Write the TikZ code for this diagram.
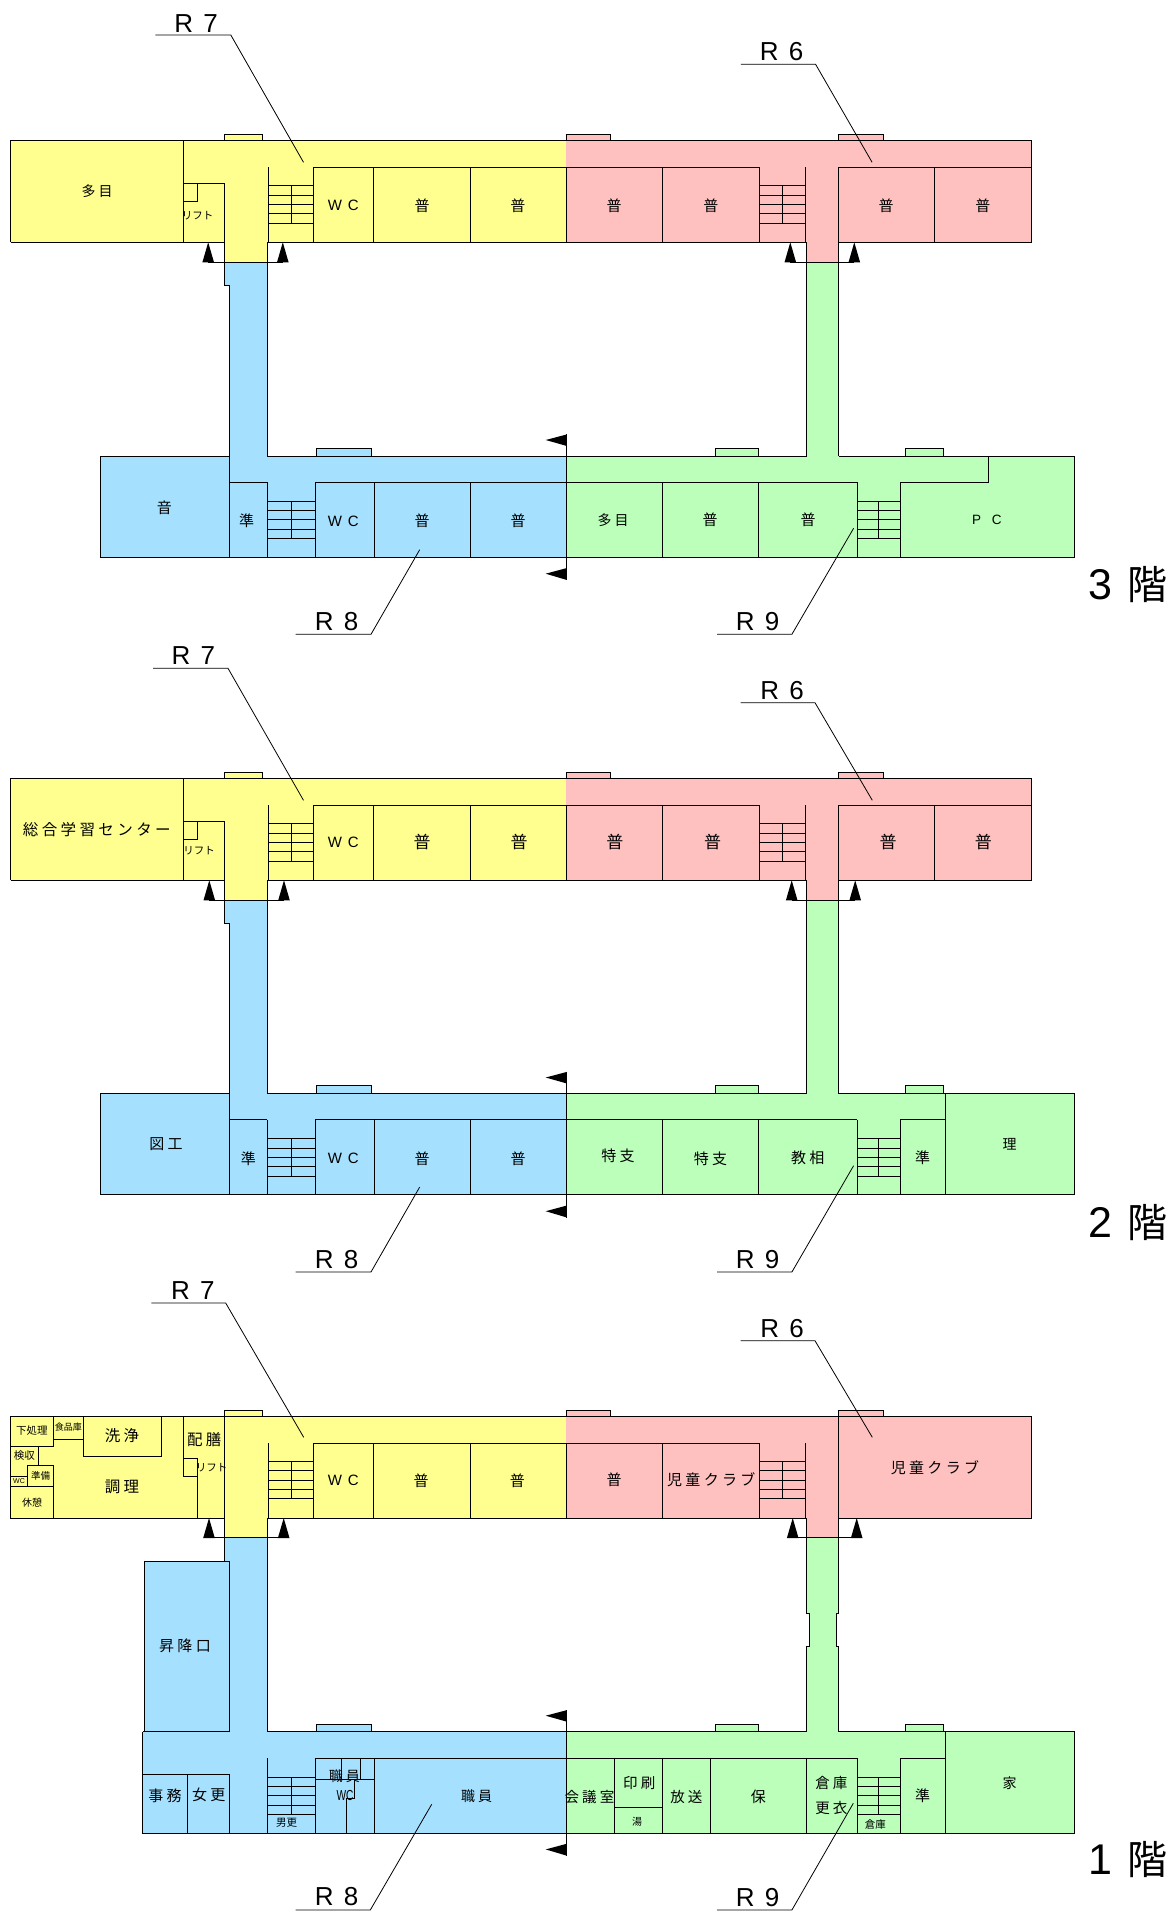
\documentclass[tikz,border=0pt]{standalone}
\usepackage{fontspec}
\setmainfont{Noto Sans CJK JP}
\newfontfamily\cjkp{Noto Sans CJK JP}
\newfontfamily\cjks[LetterSpace=22]{Noto Sans CJK JP}
\newfontfamily\latp{Liberation Sans}
\newfontfamily\lats[LetterSpace=40]{Liberation Sans}
\newfontfamily\latw[LetterSpace=80]{Liberation Sans}
\definecolor{zy}{HTML}{FFFF90}
\definecolor{zp}{HTML}{FFC0C0}
\definecolor{zb}{HTML}{A5E1FF}
\definecolor{zg}{HTML}{BBFFBB}
\tikzset{ln/.style={draw=black,line width=1pt,line join=miter},
  ldr/.style={draw=black,line width=.8pt},
  lb/.style={inner sep=0pt,outer sep=0pt,anchor=center,text=black}}
\newcommand{\lbl}[6]{\node[lb,font=#4\fontsize{#5}{#5}\selectfont] (#1) at (#2,#3) {#6};}
\newcommand{\rlbl}[5]{\node[lb,font=\latp\fontsize{26}{26}\selectfont] (#1) at (#2,#3) {R\ \kern3pt #5};}
\newcommand{\leaderline}[6]{\coordinate (#1a) at (#2,#4);\coordinate (#1b) at (#3,#4);\coordinate (#1c) at (#5,#6);\draw[ldr] (#1a) -- (#1b) -- (#1c);}
\newcommand{\stairs}[4]{\foreach \k in {0,9.33,18.67,28,37.33}{\draw[ln] (#1,#4+\k) -- (#3,#4+\k);}\draw[ln] (#2,#4) -- (#2,#4+37.33);}
\newcommand{\bump}[4]{\fill[#4] (#1,0) rectangle (#2,#3);\draw[ln] (#1,0) -- (#1,#3) -- (#2,#3) -- (#2,0);}
\newcommand{\upar}[1]{\fill[black] (#1,102) -- ++(-5.8,20) -- ++(11.6,0) -- cycle;}
\newcommand{\topfills}{%
  \fill[zy] (10.5,0) rectangle (566.4,102);
  \fill[zy] (224.3,100) rectangle (267.2,122);
  \fill[zp] (566.4,0) rectangle (1031,102);
  \fill[zp] (806.5,100) rectangle (838.5,122);
  \bump{224.3}{262.5}{-6}{zy}\bump{566}{610.5}{-6}{zp}\bump{838.2}{883.2}{-6}{zp}}
\newcommand{\toplines}{%
  \draw[ln] (10.5,102) -- (10.5,0) -- (1031,0) -- (1031,102) -- (838.5,102);
  \draw[ln] (806.5,102) -- (268.3,102);
  \draw[ln] (224.3,102) -- (10.5,102);
  \draw[ln] (313.8,27) -- (759.5,27);
  \draw[ln] (268.3,27) -- (268.3,102);
  \draw[ln] (267.2,102) -- (267.2,122);
  \draw[ln] (805.3,27) -- (805.3,102);
  \draw[ln] (806.5,102) -- (806.5,122);
  \foreach \xx in {313.8,373.9,470.3,566.4,662.3,759.5}{\draw[ln] (\xx,27) -- (\xx,102);}
  \stairs{268.3}{291.2}{313.8}{45.5}
  \stairs{759.5}{782.5}{805.3}{45.5}}
\newcommand{\lowfills}[1]{%
  \fill[zb] (#1,0) rectangle (566.5,101.3);
  \fill[zg] (566.5,0) rectangle (1074.1,101.3);
  \bump{316}{371.5}{-7.7}{zb}\bump{715.2}{758.7}{-7.7}{zg}\bump{905.3}{943.3}{-7.7}{zg}}
\newcommand{\lowlines}[1]{%
  \draw[ln] (267.3,0) -- (806.5,0);
  \draw[ln] (838.5,0) -- (1074.1,0) -- (1074.1,101.3) -- (#1,101.3) -- (#1,0);
  \draw[ln] (315.3,26.3) -- (857.1,26.3);
  \draw[ln] (566.5,-21.6) -- (566.5,124);
  \fill[black] (545.7,-16) -- (566.9,-21.6) -- (566.9,-10) -- cycle;
  \fill[black] (545.7,117.7) -- (566.9,112) -- (566.9,124) -- cycle;
  \foreach \xx in {267.3,315.3,662.6,857.1,900.2}{\draw[ln] (\xx,26.3) -- (\xx,101.3);}
  \stairs{857.1}{878.9}{900.2}{45.3}
  \stairs{267.3}{291.3}{315.3}{45.3}}
\newcommand{\upperrooms}{%
  \foreach \xx in {374,470.3,758.3}{\draw[ln] (\xx,26.3) -- (\xx,101.3);}}
\newcommand{\upperwing}{%
  \toplines
  \draw[ln] (183.3,0) -- (183.3,102);
  \draw[ln] (183.3,43) -- (224.3,43) -- (224.3,122);
  \draw[ln] (183.3,43) rectangle (197.9,61);
  \draw[ln] (838.5,122) -- (838.5,27) -- (1031,27);
  \draw[ln] (934.6,27) -- (934.6,102);}
\begin{document}
\begin{tikzpicture}[x=1pt,y=-1pt]
\useasboundingbox (0,0) rectangle (1170,1912);
\fill[white] (0,0) rectangle (1170,1912);

% ---------- links (fills)
\fill[zb] (224.3,262.3) -- (224.3,285.7) -- (229.7,285.7) -- (229.7,460) -- (267.3,460) -- (267.3,262.3) -- cycle;
\fill[zb] (224.3,900.3) -- (224.3,923.7) -- (229.7,923.7) -- (229.7,1097) -- (267.3,1097) -- (267.3,900.3) -- cycle;
\fill[zg] (806.5,262.3) rectangle (838.5,460);
\fill[zg] (806.5,900.3) rectangle (838.5,1097);
\draw[ln] (224.3,262.3) -- (224.3,285.7) -- (229.7,285.7) -- (229.7,456);
\draw[ln] (267.3,262.3) -- (267.3,456);
\draw[ln] (806.5,262.3) -- (806.5,456);\draw[ln] (838.5,262.3) -- (838.5,456);
\draw[ln] (224.3,900.3) -- (224.3,923.7) -- (229.7,923.7) -- (229.7,1093.5);
\draw[ln] (267.3,900.3) -- (267.3,1093.5);
\draw[ln] (806.5,900.3) -- (806.5,1093.5);\draw[ln] (838.5,900.3) -- (838.5,1093.5);

% ---------- 3F upper
\begin{scope}[shift={(0,140.3)}]
\topfills\upperwing
\upar{208.2}\upar{282.8}\upar{790.3}\upar{854.3}
\draw[ln] (208.2,122) -- (283,122);\draw[ln] (790.3,122) -- (854.3,122);
\end{scope}
% ---------- 3F lower
\begin{scope}[shift={(0,456)}]
\lowfills{100}\lowlines{100}\upperrooms
\draw[ln] (100,0) -- (229.7,0) -- (229.7,101.3);
\draw[ln] (229.7,26.3) -- (267.3,26.3);
\draw[ln] (900.2,26.3) -- (988.3,26.3) -- (988.3,0);
\end{scope}
% ---------- 2F upper
\begin{scope}[shift={(0,778.3)}]
\topfills\upperwing
\upar{209.3}\upar{284}\upar{791.7}\upar{855.2}
\draw[ln] (209.3,122) -- (284,122);\draw[ln] (791.7,122) -- (855.2,122);
\end{scope}
% ---------- 2F lower
\begin{scope}[shift={(0,1093.5)}]
\lowfills{100}\lowlines{100}\upperrooms
\draw[ln] (100,0) -- (229.7,0) -- (229.7,101.3);
\draw[ln] (229.7,26.3) -- (267.3,26.3);
\draw[ln] (900.2,26.3) -- (945.3,26.3);
\draw[ln] (945.3,0) -- (945.3,101.3);
\end{scope}

% ---------- 1F links
\fill[zb] (224.3,1537.7) rectangle (267.3,1736);
\fill[zb] (144,1561.3) rectangle (229.7,1733);
\draw[ln] (224.3,1537.7) -- (224.3,1561.3);
\draw[ln] (144,1731.5) -- (144,1561.3) -- (229.7,1561.3) -- (229.7,1731.5);
\draw[ln] (267.3,1537.7) -- (267.3,1731.7);
\fill[zg] (806.5,1537.7) -- (806.5,1613.3) -- (809.3,1613.3) -- (809.3,1646.7) -- (806.5,1646.7) -- (806.5,1735) -- (838.5,1735) -- (838.5,1646.7) -- (836,1646.7) -- (836,1613.3) -- (838.5,1613.3) -- (838.5,1537.7) -- cycle;
\draw[ln] (806.5,1537.7) -- (806.5,1613.3) -- (809.3,1613.3) -- (809.3,1646.7) -- (806.5,1646.7) -- (806.5,1731.7);
\draw[ln] (838.5,1537.7) -- (838.5,1613.3) -- (836,1613.3) -- (836,1646.7) -- (838.5,1646.7) -- (838.5,1731.7);

% ---------- 1F upper
\begin{scope}[shift={(0,1416)}]
\topfills\toplines
\draw[ln] (224.3,-6) -- (224.3,122);
\draw[ln] (838.3,-6) -- (838.3,122);
\draw[ln] (10.5,0) rectangle (53.3,30);
\draw[ln] (53.3,0) rectangle (83.3,23.3);
\draw[ln] (83.3,0) rectangle (161,40.7);
\draw[ln] (38.3,30) -- (38.3,49.7);
\draw[ln] (10.5,60.7) -- (27.7,60.7);
\draw[ln] (27.7,49.7) rectangle (53.3,70.7);
\draw[ln] (10.5,70.7) rectangle (53.3,102);
\draw[ln] (183.3,0) -- (183.3,60.7) -- (197.7,60.7);
\draw[ln] (183.3,42.7) -- (197.7,42.7) -- (197.7,102);
\upar{209}\upar{283.7}\upar{792.7}\upar{856.7}
\draw[ln] (209,121.7) -- (283.7,121.7);\draw[ln] (792.7,121.7) -- (856.7,121.7);
\end{scope}
% ---------- 1F lower
\begin{scope}[shift={(0,1731.7)}]
\lowfills{142.7}\lowlines{142.7}
\draw[ln] (142.7,0) -- (229.7,0);
\draw[ln] (142.7,42.3) -- (229.7,42.3) -- (229.7,101.3);
\draw[ln] (187,42.3) -- (187,101.3);
\draw[ln] (267.3,82.6) -- (315.3,82.6);
\draw[ln] (315.3,47.6) -- (374,47.6);
\draw[ln] (341.3,26.3) -- (341.3,47.6);
\draw[ln] (360.7,26.3) -- (360.7,47.6);
\draw[ln] (354.3,47.6) -- (354.3,67) -- (346.3,67) -- (346.3,101.3);
\draw[ln] (374,26.3) -- (374,101.3);
\draw[ln] (614,26.3) -- (614,101.3);
\draw[ln] (710.5,26.3) -- (710.5,101.3);
\draw[ln] (806.5,26.3) -- (806.5,101.3);
\draw[ln] (614,75.6) -- (662.6,75.6);
\draw[ln] (857.1,82.6) -- (900.2,82.6);
\draw[ln] (900.2,26.3) -- (945.3,26.3);
\draw[ln] (945.3,0) -- (945.3,101.3);
\end{scope}

% ---------- leaders
\leaderline{la}{155.4}{230.8}{35}{303.5}{162.3}
\leaderline{lb}{740.9}{815.6}{64.3}{872.1}{162.3}
\leaderline{lc}{295.7}{371}{634.3}{419.7}{549.7}
\leaderline{ld}{717.2}{791.9}{634.3}{853.6}{528.3}
\leaderline{le}{153}{228}{668.3}{303.5}{800.3}
\leaderline{lf}{740.5}{815}{702.7}{872.3}{800.3}
\leaderline{lg}{295.7}{371}{1272}{419.7}{1187}
\leaderline{lh}{717.2}{791.9}{1272}{853.6}{1165.7}
\leaderline{li}{151.3}{225.7}{1303}{303.7}{1437.3}
\leaderline{lj}{740.5}{815}{1340.7}{872.3}{1437.3}
\leaderline{lk}{295.7}{370.3}{1910}{431.7}{1804.3}
\leaderline{ll}{717.2}{791.9}{1910}{853.3}{1803.3}

\rlbl{ra}{196}{23.3}{}{7}
\rlbl{rb}{781.6}{51.7}{}{6}
\rlbl{rc}{336.7}{621.7}{}{8}
\rlbl{rd}{757.5}{621.7}{}{9}
\rlbl{re}{193.3}{656}{}{7}
\rlbl{rf}{782}{690.5}{}{6}
\rlbl{rg}{336.7}{1260}{}{8}
\rlbl{rh}{757.5}{1260}{}{9}
\rlbl{ri}{192.8}{1290.7}{}{7}
\rlbl{rj}{782}{1328.6}{}{6}
\rlbl{rk}{336.7}{1896.7}{}{8}
\rlbl{rl}{757.5}{1897.5}{}{9}

% ---------- storey marks
\node[lb,anchor=west,font=\cjkp\fontsize{40}{40}\selectfont] (fc) at (1088,585) {{\latp\fontsize{43}{43}\selectfont 3}\ \kern7pt 階};
\node[lb,anchor=west,font=\cjkp\fontsize{40}{40}\selectfont] (fb) at (1088,1222.3) {{\latp\fontsize{43}{43}\selectfont 2}\ \kern7pt 階};
\node[lb,anchor=west,font=\cjkp\fontsize{40}{40}\selectfont] (fa) at (1088,1860) {{\latp\fontsize{43}{43}\selectfont 1}\ \kern7pt 階};

% ---------- 3F labels
\lbl{a1}{97.2}{191.3}{\cjks}{14}{多目}
\lbl{a2}{197.5}{215.7}{\cjkp}{10.5}{リフト}
\lbl{a3}{343.3}{205.7}{\lats}{15}{WC}
\lbl{a4}{422}{205.7}{\cjkp}{15}{普}
\lbl{a5}{517.8}{205.7}{\cjkp}{15}{普}
\lbl{a6}{614}{205.3}{\cjkp}{15}{普}
\lbl{a7}{710.9}{205.3}{\cjkp}{15}{普}
\lbl{a8}{886}{205.3}{\cjkp}{15}{普}
\lbl{a9}{982.8}{205.3}{\cjkp}{15}{普}
\lbl{b1}{164.3}{507.7}{\cjkp}{15}{音}
\lbl{b2}{246.7}{521}{\cjkp}{15}{準}
\lbl{b3}{343.3}{521}{\lats}{15}{WC}
\lbl{b4}{422}{521}{\cjkp}{15}{普}
\lbl{b5}{518}{521}{\cjkp}{15}{普}
\lbl{b6}{613.2}{520}{\cjks}{14}{多目}
\lbl{b7}{710}{520}{\cjkp}{15}{普}
\lbl{b8}{808}{520}{\cjkp}{15}{普}
\lbl{b9}{986.8}{520}{\latw}{13.5}{PC}

% ---------- 2F labels
\lbl{c1}{96.8}{829.3}{\cjks}{15.5}{総合学習センター}
\lbl{c2}{199}{850.3}{\cjkp}{10.5}{リフト}
\lbl{c3}{343.3}{842.7}{\lats}{15}{WC}
\lbl{c4}{422}{841.7}{\cjkp}{17}{普}
\lbl{c5}{519}{841.7}{\cjkp}{17}{普}
\lbl{c6}{614.9}{841.8}{\cjkp}{17}{普}
\lbl{c7}{712.5}{841.8}{\cjkp}{17}{普}
\lbl{c8}{888}{841.8}{\cjkp}{17}{普}
\lbl{c9}{983.3}{841.8}{\cjkp}{17}{普}
\lbl{d1}{166}{1144.3}{\cjks}{15}{図工}
\lbl{d2}{248.3}{1158.3}{\cjkp}{15}{準}
\lbl{d3}{343.3}{1158.3}{\lats}{15}{WC}
\lbl{d4}{422}{1158.3}{\cjkp}{15}{普}
\lbl{d5}{518}{1158.3}{\cjkp}{15}{普}
\lbl{d6}{618}{1156}{\cjks}{15}{特支}
\lbl{d7}{710.5}{1158.3}{\cjks}{15}{特支}
\lbl{d8}{807.7}{1158}{\cjks}{15}{教相}
\lbl{d9}{922.7}{1158}{\cjkp}{15}{準}
\lbl{d0}{1009.7}{1144.3}{\cjkp}{14}{理}

% ---------- 1F labels
\lbl{e1}{32}{1431}{\cjkp}{10.5}{下処理}
\lbl{e2}{68.3}{1427.3}{\cjkp}{9}{食品庫}
\lbl{e3}{122}{1436}{\cjks}{15.5}{洗浄}
\lbl{e4}{24.3}{1456}{\cjkp}{10.5}{検収}
\lbl{e5}{40.7}{1476}{\cjkp}{9.5}{準備}
\lbl{e6}{19}{1481.3}{\latp}{7}{WC}
\lbl{e7}{32}{1502.3}{\cjkp}{10}{休憩}
\lbl{e8}{122}{1487.3}{\cjks}{15.5}{調理}
\lbl{e9}{204.3}{1439.7}{\cjks}{15.5}{配膳}
\lbl{e0}{211.7}{1468}{\cjkp}{10.5}{リフト}
\lbl{f1}{343.3}{1480}{\lats}{15}{WC}
\lbl{f2}{421}{1481}{\cjkp}{15}{普}
\lbl{f3}{517.3}{1481}{\cjkp}{15}{普}
\lbl{f4}{614}{1480}{\cjkp}{15}{普}
\lbl{f5}{711.3}{1480}{\cjks}{15}{児童クラブ}
\lbl{f6}{935}{1467.3}{\cjks}{15}{児童クラブ}
\lbl{g1}{185}{1646}{\cjks}{15}{昇降口}
\lbl{g2}{165}{1795.3}{\cjks}{15}{事務}
\lbl{g3}{208.7}{1795.3}{\cjks}{15}{女更}
\lbl{g4}{286.7}{1822.7}{\cjkp}{10.5}{男更}
\lbl{g5}{344.3}{1776}{\cjks}{14}{職員}
\node[lb,font=\latp\fontsize{14.5}{14.5}\selectfont,xscale=.7,transform shape] (g6) at (345,1795.3) {WC};
\lbl{g7}{476.7}{1795.7}{\cjks}{14}{職員}
\lbl{h1}{589.5}{1796.7}{\cjks}{14.5}{会議室}
\lbl{h2}{639.3}{1783.3}{\cjks}{14.5}{印刷}
\lbl{h3}{637}{1821.7}{\cjkp}{10}{湯}
\lbl{h4}{686.4}{1796.7}{\cjks}{14.5}{放送}
\lbl{h5}{758.3}{1796.7}{\cjkp}{15}{保}
\lbl{h6}{831.4}{1782.7}{\cjks}{14.5}{倉庫}
\lbl{h7}{831.4}{1808.3}{\cjks}{14.5}{更衣}
\lbl{h8}{875.3}{1824.3}{\cjkp}{10.5}{倉庫}
\lbl{h9}{922.7}{1795.3}{\cjkp}{15}{準}
\lbl{h0}{1009.7}{1782.7}{\cjkp}{14}{家}
\end{tikzpicture}
\end{document}
